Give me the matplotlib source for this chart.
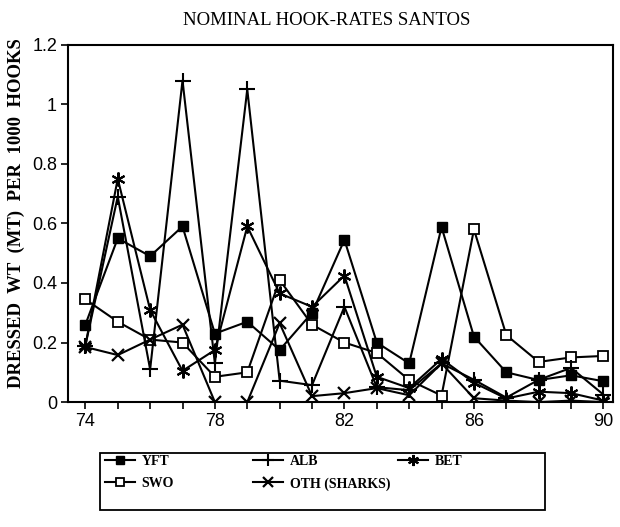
import matplotlib
matplotlib.use('Agg')
import matplotlib.pyplot as plt
from matplotlib.patches import Rectangle

years = list(range(74, 91))

yft = [0.26, 0.55, 0.49, 0.59, 0.23, 0.27, 0.175, 0.30, 0.545, 0.20, 0.13, 0.588, 0.22, 0.10, 0.074, 0.09, 0.07]
alb = [0.19, 0.69, 0.11, 1.08, 0.13, 1.05, 0.072, 0.057, 0.32, 0.05, 0.04, 0.13, 0.075, 0.015, 0.075, 0.115, 0.025]
bet = [0.19, 0.75, 0.31, 0.105, 0.175, 0.59, 0.365, 0.32, 0.425, 0.085, 0.047, 0.145, 0.065, 0.012, 0.035, 0.03, 0.005]
swo = [0.345, 0.27, 0.21, 0.20, 0.085, 0.10, 0.41, 0.26, 0.20, 0.165, 0.074, 0.022, 0.58, 0.225, 0.135, 0.15, 0.155]
oth = [0.185, 0.158, 0.21, 0.26, 0.0, 0.0, 0.265, 0.02, 0.03, 0.047, 0.023, 0.13, 0.013, 0.005, 0.0, 0.005, 0.0]

serif = 'Liberation Serif'
sans = 'Liberation Sans'

fig = plt.figure(figsize=(6.2, 5.27), dpi=100)
ax = fig.add_axes([0.11, 0.237, 0.879, 0.678])

kw = dict(color='black', linewidth=1.5)
l1, = ax.plot(years, yft, marker='s', markersize=7, markerfacecolor='black', label='YFT', **kw)
l2, = ax.plot(years, swo, marker='s', markersize=7, markerfacecolor='white', markeredgewidth=1.3, label='SWO', **kw)
l3, = ax.plot(years, alb, marker='+', markersize=11, markeredgewidth=1.5, label='ALB', **kw)
l4, = ax.plot(years, oth, marker='x', markersize=9, markeredgewidth=1.6, label='OTH (SHARKS)', **kw)
l5, = ax.plot(years, bet, marker=(6, 2, 0), markersize=10, markeredgewidth=1.5, label='BET', **kw)

ax.set_xlim(73.47, 90.3)
ax.set_ylim(0, 1.2)
ax.set_xticks(years)
ax.set_xticklabels([str(y) if (y - 74) % 4 == 0 else '' for y in years])
ax.set_yticks([0, 0.2, 0.4, 0.6, 0.8, 1.0, 1.2])
ax.set_yticklabels(['0', '0.2', '0.4', '0.6', '0.8', '1', '1.2'])
ax.tick_params(direction='out', length=5, width=1.2, labelsize=13, pad=3)
for lab in ax.get_xticklabels() + ax.get_yticklabels():
    lab.set_family(sans)
for sp in ax.spines.values():
    sp.set_linewidth(1.5)

ax.set_ylabel('DRESSED  WT  (MT)  PER  1000  HOOKS', family=serif, fontweight='bold', fontsize=13.5)
ax.yaxis.set_label_coords(-0.079, 0.53)
fig.text(0.527, 0.962, 'NOMINAL HOOK-RATES SANTOS', family=serif, fontsize=13.5, ha='center', va='center')

# legend box drawn by hand, three columns placed inside it
fig.patches.append(Rectangle((0.161, 0.032), 0.718, 0.108, transform=fig.transFigure,
                             fill=False, edgecolor='black', linewidth=1.3))
cols = [([l1, l2], 105), ([l3, l4], 253), ([l5], 398)]
for hs, xpx in cols:
    fig.legend(handles=hs, loc='upper left', bbox_to_anchor=(xpx / 620, 1 - 455 / 527),
               frameon=False, borderpad=0, borderaxespad=0, handlelength=2.15,
               handletextpad=0.5, labelspacing=0.65, markerscale=0.8,
               prop={'family': serif, 'weight': 'bold', 'size': 10})

fig.savefig('out.png', dpi=100)
